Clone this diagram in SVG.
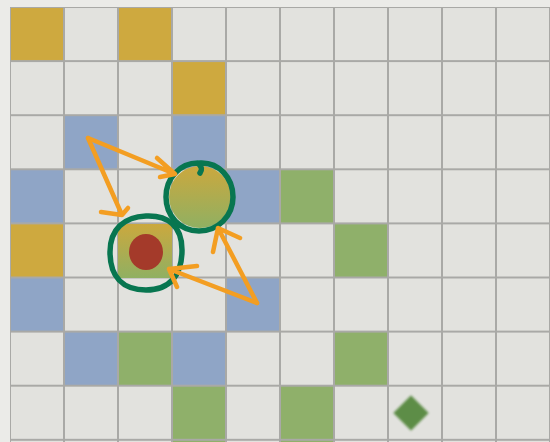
<svg xmlns="http://www.w3.org/2000/svg" width="550" height="442" viewBox="0 0 550 442">
  <defs>
    <linearGradient id="gg" x1="0" y1="0" x2="0" y2="1">
      <stop offset="0" stop-color="#cba83e"/>
      <stop offset="1" stop-color="#90b062"/>
    </linearGradient>
    <filter id="soft" x="-30%" y="-30%" width="160%" height="160%">
      <feGaussianBlur stdDeviation="0.8"/>
    </filter>
    <pattern id="grid" x="10" y="7" width="54" height="54.1" patternUnits="userSpaceOnUse">
      <rect width="54" height="54.1" fill="none" stroke="#a9a9a6" stroke-width="2"/>
    </pattern>
  </defs>
  <style>
    .gold{fill:#cea93f}
    .blue{fill:#8fa5c6}
    .green{fill:#8fb06a}
    .ring{fill:none;stroke:#087650;stroke-width:5.5;stroke-linecap:round;stroke-linejoin:round}
    .arr{fill:none;stroke:#f39e22;stroke-width:4.5;stroke-linecap:round;stroke-linejoin:round}
  </style>
  <rect width="550" height="442" fill="#ebebe8"/>
  <rect x="10" y="7" width="540" height="435" fill="#e2e2de"/>
  <g id="cells">
    <rect class="gold" x="10" y="7" width="54" height="54"/>
    <rect class="gold" x="118" y="7" width="54" height="54"/>
    <rect class="gold" x="172" y="61" width="54" height="55"/>
    <rect class="blue" x="64" y="116" width="54" height="54"/>
    <rect class="blue" x="172" y="116" width="54" height="54"/>
    <rect class="blue" x="10" y="170" width="54" height="54"/>
    <rect class="blue" x="226" y="170" width="54" height="54"/>
    <rect class="green" x="280" y="170" width="54" height="54"/>
    <rect class="gold" x="10" y="224" width="54" height="54"/>
    <rect class="green" x="334" y="224" width="54" height="54"/>
    <rect class="blue" x="10" y="278" width="54" height="54"/>
    <rect class="blue" x="226" y="278" width="54" height="54"/>
    <rect class="blue" x="64" y="332" width="54" height="54"/>
    <rect class="green" x="118" y="332" width="54" height="54"/>
    <rect class="blue" x="172" y="332" width="54" height="54"/>
    <rect class="green" x="334" y="332" width="54" height="54"/>
    <rect class="green" x="172" y="386" width="54" height="56"/>
    <rect class="green" x="280" y="386" width="54" height="56"/>
  </g>
  <rect x="10" y="7" width="540" height="435" fill="url(#grid)"/>
  <g id="node-target">
    <circle cx="200" cy="197" r="31" fill="url(#gg)"/>
    <path class="ring" d="M200 163 C219 162 233 178 233 197 C233 216 218 231 199 231 C180 231 166 216 166 197 C166 178 180 163 198 163 C201 166 203 169 200 173"/>
  </g>
  <g id="node-start">
    <rect x="118" y="224" width="54" height="54" fill="url(#gg)"/>
    <ellipse cx="146" cy="252" rx="17" ry="18" fill="#a43a2a"/>
    <path class="ring" d="M146 216 C168 215 182 226 182 250 C182 275 170 290 146 290 C122 290 110 276 110 252 C110 229 124 217 146 216 Z"/>
  </g>
  <g id="node-diamond">
    <rect x="398.5" y="400.5" width="25" height="25" fill="#5d8d47" transform="rotate(45 411 413)" filter="url(#soft)"/>
  </g>
  <g id="connectors">
    <path class="arr" d="M88 138 L175 174 M157 158 L175 174 L160 177"/>
    <path class="arr" d="M88 138 L122 215 M101 212 L122 215 L128 208"/>
    <path class="arr" d="M257 303 L218 228 M213 252 L218 228 L240 238"/>
    <path class="arr" d="M257 303 L169 269 M197 266 L169 269 L177 287"/>
  </g>
</svg>
